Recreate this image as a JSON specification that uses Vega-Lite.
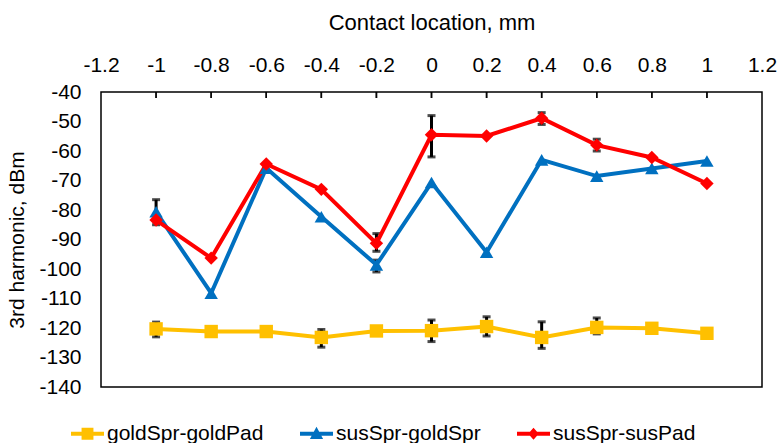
{
  "$schema": "https://vega.github.io/schema/vega-lite/v6.json",
  "width": 661,
  "height": 295,
  "autosize": {"type": "none"},
  "padding": {"left": 101, "top": 92, "right": 17, "bottom": 56},
  "background": "white",
  "config": {
    "font": "Liberation Sans",
    "view": {"stroke": "#000000", "strokeWidth": 1.5},
    "axis": {"grid": false, "domain": false, "labelFont": "Liberation Sans", "titleFont": "Liberation Sans", "labelColor": "#000", "titleColor": "#000", "titleFontWeight": "normal"}
  },
  "data": {
    "values": [
      {"x": -1.0, "series": "goldSpr-goldPad", "y": -120.3, "lo": -118, "hi": -123},
      {"x": -0.8, "series": "goldSpr-goldPad", "y": -121.2, "lo": -119.5, "hi": -122.5},
      {"x": -0.6, "series": "goldSpr-goldPad", "y": -121.2, "lo": null, "hi": null},
      {"x": -0.4, "series": "goldSpr-goldPad", "y": -123.2, "lo": -120.5, "hi": -126.5},
      {"x": -0.2, "series": "goldSpr-goldPad", "y": -121.0, "lo": -119.5, "hi": -122.2},
      {"x": 0.0, "series": "goldSpr-goldPad", "y": -120.9, "lo": -117.3, "hi": -124.6},
      {"x": 0.2, "series": "goldSpr-goldPad", "y": -119.5, "lo": -116.2, "hi": -122.7},
      {"x": 0.4, "series": "goldSpr-goldPad", "y": -123.2, "lo": -117.9, "hi": -126.9},
      {"x": 0.6, "series": "goldSpr-goldPad", "y": -119.8, "lo": -116.6, "hi": -122.0},
      {"x": 0.8, "series": "goldSpr-goldPad", "y": -120.1, "lo": null, "hi": null},
      {"x": 1.0, "series": "goldSpr-goldPad", "y": -121.8, "lo": -121.0, "hi": -123.0},
      {"x": -1.0, "series": "susSpr-goldSpr", "y": -80.6, "lo": null, "hi": null},
      {"x": -0.8, "series": "susSpr-goldSpr", "y": -108.2, "lo": null, "hi": null},
      {"x": -0.6, "series": "susSpr-goldSpr", "y": -65.8, "lo": null, "hi": null},
      {"x": -0.4, "series": "susSpr-goldSpr", "y": -82.3, "lo": null, "hi": null},
      {"x": -0.2, "series": "susSpr-goldSpr", "y": -98.6, "lo": -97.0, "hi": -101.0},
      {"x": 0.0, "series": "susSpr-goldSpr", "y": -70.7, "lo": null, "hi": null},
      {"x": 0.2, "series": "susSpr-goldSpr", "y": -94.3, "lo": null, "hi": null},
      {"x": 0.4, "series": "susSpr-goldSpr", "y": -63.0, "lo": null, "hi": null},
      {"x": 0.6, "series": "susSpr-goldSpr", "y": -68.5, "lo": null, "hi": null},
      {"x": 0.8, "series": "susSpr-goldSpr", "y": -65.9, "lo": null, "hi": null},
      {"x": 1.0, "series": "susSpr-goldSpr", "y": -63.4, "lo": null, "hi": null},
      {"x": -1.0, "series": "susSpr-susPad", "y": -83.4, "lo": -76.5, "hi": -85.0},
      {"x": -0.8, "series": "susSpr-susPad", "y": -96.3, "lo": null, "hi": null},
      {"x": -0.6, "series": "susSpr-susPad", "y": -64.4, "lo": null, "hi": null},
      {"x": -0.4, "series": "susSpr-susPad", "y": -73.0, "lo": null, "hi": null},
      {"x": -0.2, "series": "susSpr-susPad", "y": -91.3, "lo": -88.0, "hi": -94.0},
      {"x": 0.0, "series": "susSpr-susPad", "y": -54.5, "lo": -48.0, "hi": -62.0},
      {"x": 0.2, "series": "susSpr-susPad", "y": -54.9, "lo": null, "hi": null},
      {"x": 0.4, "series": "susSpr-susPad", "y": -48.9, "lo": -47.0, "hi": -51.0},
      {"x": 0.6, "series": "susSpr-susPad", "y": -58.0, "lo": -56.0, "hi": -60.0},
      {"x": 0.8, "series": "susSpr-susPad", "y": -62.2, "lo": null, "hi": null},
      {"x": 1.0, "series": "susSpr-susPad", "y": -71.0, "lo": null, "hi": null}
    ]
  },
  "encoding": {
    "x": {
      "field": "x", "type": "quantitative",
      "scale": {"domain": [-1.2, 1.2], "nice": false, "zero": false},
      "axis": {
        "orient": "top", "title": "Contact location, mm",
        "values": [-1.2, -1, -0.8, -0.6, -0.4, -0.2, 0, 0.2, 0.4, 0.6, 0.8, 1, 1.2],
        "labelExpr": "toString(datum.value)",
        "labelFontSize": 21, "titleFontSize": 22,
        "ticks": false, "tickSize": 0,
        "labelPadding": 17, "titlePadding": 20, "labelFlush": false, "labelOverlap": false
      }
    },
    "y": {
      "field": "y", "type": "quantitative",
      "scale": {"domain": [-140, -40], "nice": false, "zero": false},
      "axis": {
        "title": "3rd harmonic, dBm",
        "values": [-140, -130, -120, -110, -100, -90, -80, -70, -60, -50, -40],
        "labelExpr": "toString(datum.value)",
        "labelFontSize": 21, "titleFontSize": 21,
        "ticks": false, "tickSize": 0, "labelPadding": 20, "titlePadding": 11, "labelFlush": false, "labelOverlap": false
      }
    }
  },
  "layer": [
    {
      "mark": {"type": "tick", "color": "#000", "thickness": 1.5, "size": 6, "orient": "vertical", "yOffset": 3},
      "encoding": {"y": {"datum": -40}}
    },
    {
      "transform": [{"filter": "datum.lo != null"}],
      "mark": {"type": "rule", "color": "#000", "strokeWidth": 3},
      "encoding": {"y": {"field": "lo", "type": "quantitative"}, "y2": {"field": "hi"}}
    },
    {
      "transform": [{"filter": "datum.lo != null"}],
      "mark": {"type": "tick", "color": "#000", "thickness": 3, "size": 8, "orient": "horizontal"},
      "encoding": {"y": {"field": "lo", "type": "quantitative"}}
    },
    {
      "transform": [{"filter": "datum.lo != null"}],
      "mark": {"type": "tick", "color": "#000", "thickness": 3, "size": 8, "orient": "horizontal"},
      "encoding": {"y": {"field": "hi", "type": "quantitative"}}
    },
    {
      "mark": {"type": "line", "strokeWidth": 4},
      "encoding": {
        "detail": {"field": "series", "type": "nominal"},
        "color": {"condition": [
          {"test": "datum.series == 'goldSpr-goldPad'", "value": "#FFC000"},
          {"test": "datum.series == 'susSpr-goldSpr'", "value": "#0070C0"}
        ], "value": "#FF0000"}
      }
    },
    {
      "mark": {"type": "point", "filled": true, "opacity": 1, "size": 180},
      "encoding": {
        "color": {"condition": [
          {"test": "datum.series == 'goldSpr-goldPad'", "value": "#FFC000"},
          {"test": "datum.series == 'susSpr-goldSpr'", "value": "#0070C0"}
        ], "value": "#FF0000"},
        "shape": {"condition": [
          {"test": "datum.series == 'goldSpr-goldPad'", "value": "square"},
          {"test": "datum.series == 'susSpr-goldSpr'", "value": "triangle-up"}
        ], "value": "diamond"}
      }
    },
    {
      "transform": [{"filter": "false"}],
      "mark": {"type": "point", "filled": true, "opacity": 1, "size": 1089},
      "encoding": {
        "color": {"field": "series", "type": "nominal",
          "scale": {"domain": ["goldSpr-goldPad", "susSpr-goldSpr", "susSpr-susPad"], "range": ["#FFC000", "#0070C0", "#FF0000"]},
          "legend": {
            "title": null, "orient": "none", "direction": "horizontal",
            "legendX": -31, "legendY": 324,
            "labelFontSize": 21, "labelFont": "Liberation Sans", "labelColor": "#000",
            "symbolSize": 1089, "columnPadding": 35, "labelOffset": 2
          }},
        "shape": {"field": "series", "type": "nominal",
          "scale": {"domain": ["goldSpr-goldPad", "susSpr-goldSpr", "susSpr-susPad"], "range": [
            "M-1,-0.12H1V0.12H-1Z M-0.36,-0.36H0.36V0.36H-0.36Z",
            "M-1,-0.12H1V0.12H-1Z M0,-0.42L0.4,0.32L-0.4,0.32Z",
            "M-1,-0.12H1V0.12H-1Z M0,-0.36L0.32,0L0,0.36L-0.32,0Z"
          ]},
          "legend": {
            "title": null, "orient": "none", "direction": "horizontal",
            "legendX": -31, "legendY": 324,
            "labelFontSize": 21, "labelFont": "Liberation Sans", "labelColor": "#000",
            "symbolSize": 1089, "columnPadding": 35, "labelOffset": 2
          }}
      }
    }
  ]
}
